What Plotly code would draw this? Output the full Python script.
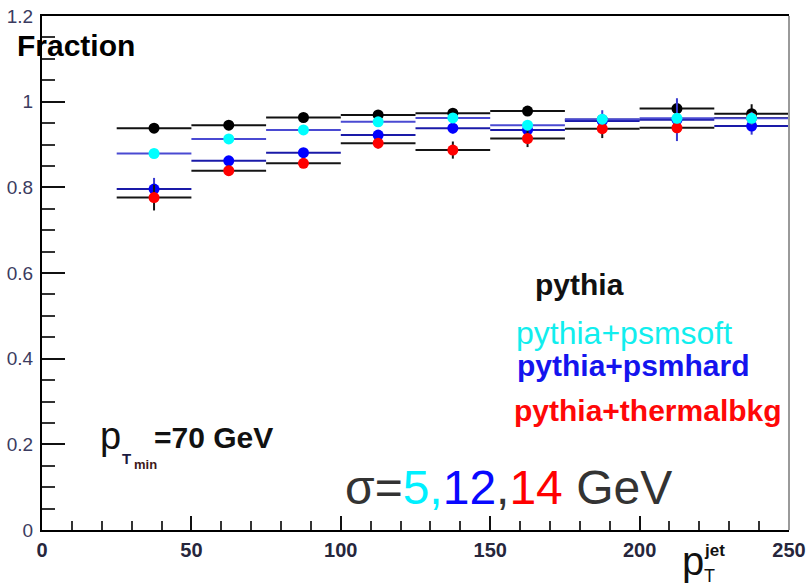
import plotly.graph_objects as go

# Jet pT bins (GeV): centres and half-widths
pt_centres = [37.5, 62.5, 87.5, 112.5, 137.5, 162.5, 187.5, 212.5, 237.5]
pt_halfwidth = [12.5] * 9

# Fraction per bin for each sample
frac_pythia = [0.938, 0.945, 0.963, 0.969, 0.973, 0.978, 0.958, 0.984, 0.972]
frac_psmsoft = [0.879, 0.913, 0.934, 0.953, 0.962, 0.945, 0.959, 0.961, 0.961]
frac_psmhard = [0.796, 0.862, 0.881, 0.922, 0.938, 0.934, 0.955, 0.958, 0.943]
frac_thermal = [0.776, 0.839, 0.856, 0.903, 0.887, 0.914, 0.937, 0.939, 0.962]

# Statistical uncertainties
err_pythia = [0.006, 0.006, 0.006, 0.007, 0.008, 0.008, 0.010, 0.010, 0.022]
err_psmsoft = [0.005, 0.006, 0.007, 0.008, 0.009, 0.009, 0.012, 0.012, 0.015]
err_psmhard = [0.026, 0.008, 0.008, 0.010, 0.012, 0.012, 0.025, 0.050, 0.020]
err_thermal = [0.030, 0.012, 0.010, 0.012, 0.020, 0.020, 0.022, 0.012, 0.015]

x_ticks = [0, 50, 100, 150, 200, 250]
y_ticks = [0, 0.2, 0.4, 0.6, 0.8, 1.0, 1.2]
y_ticktext = ["0", "0.2", "0.4", "0.6", "0.8", "1", "1.2"]

W, H = 807, 585
ML, MR, MT, MB = 42, 18, 16, 55
PW, PH = W - ML - MR, H - MT - MB
FONT = "Liberation Sans, Arial, sans-serif"


def px(x):
    return (x - ML) / PW


def py(y):
    return (H - MB - y) / PH


fig = go.Figure()

series = [
    (frac_pythia, err_pythia, "#000000", "#111111", "#111111"),
    (frac_psmhard, err_psmhard, "#0000ff", "#1a1aa8", "#3a3ad0"),
    (frac_thermal, err_thermal, "#ff0000", "#151515", "#151515"),
    (frac_psmsoft, err_psmsoft, "#00ffff", "#4a4ad2", "#4a4ad2"),
]
for vals, errs, mcol, xcol, ycol in series:
    fig.add_trace(go.Scatter(
        x=pt_centres, y=vals, mode="markers",
        marker=dict(color=mcol, size=11, symbol="circle", line=dict(width=0)),
        error_x=dict(type="data", array=pt_halfwidth, visible=True,
                     color=xcol, thickness=2, width=0),
        error_y=dict(type="data", array=errs, visible=True,
                     color=ycol, thickness=2, width=0),
        showlegend=False, hoverinfo="skip",
    ))

fig.update_layout(
    width=W, height=H,
    margin=dict(l=ML, r=MR, t=MT, b=MB, autoexpand=False),
    paper_bgcolor="white", plot_bgcolor="white",
    font=dict(family=FONT),
    xaxis=dict(
        range=[0, 250], tickvals=x_ticks, showgrid=False, zeroline=False,
        automargin=False,
        showline=True, linecolor="#000", linewidth=2, mirror=True,
        ticks="inside", ticklen=14, tickwidth=2, tickcolor="#111",
        minor=dict(dtick=10, ticks="inside", ticklen=9, tickwidth=2, tickcolor="#333"),
        tickfont=dict(size=20, color="#26263c", family=FONT, weight="bold"),
        ticklabelstandoff=1,
    ),
    yaxis=dict(
        range=[0, 1.2], tickvals=y_ticks, ticktext=y_ticktext,
        showgrid=False, zeroline=False, automargin=False,
        showline=True, linecolor="#000", linewidth=2,
        ticks="inside", ticklen=23, tickwidth=2, tickcolor="#111",
        minor=dict(dtick=0.05, ticks="inside", ticklen=13, tickwidth=2, tickcolor="#333"),
        tickfont=dict(size=19, color="#3b3b60", family=FONT),
        ticklabelstandoff=3,
    ),
)

# right frame edge
fig.add_shape(type="line", xref="paper", yref="paper", x0=1, x1=1, y0=0, y1=1,
              line=dict(color="#9a9a9a", width=2))


def note(text, x, y, size, color="#000", bold=False, xanchor="left", yanchor="middle"):
    fig.add_annotation(
        text=text, x=px(x), y=py(y), xref="paper", yref="paper",
        xanchor=xanchor, yanchor=yanchor, showarrow=False, borderpad=0,
        font=dict(family=FONT, size=size, color=color,
                  weight="bold" if bold else "normal"),
    )


# axis titles
note("Fraction", 16, 45, 30, "#000", bold=True)
note("p", 681, 561, 40, "#111")
note("jet", 703, 550, 17, "#111", bold=True)
note("T", 703, 576, 18, "#111")

# jet threshold
note("p", 99, 436, 38, "#111")
note("T", 121, 458, 15, "#1a1a40", bold=True)
note("min", 133, 464, 13, "#401818", bold=True)
note("=70 GeV", 153, 437, 30, "#111", bold=True)

# sample labels
note("pythia", 534, 285, 30, "#111", bold=True)
note("pythia+psmsoft", 515, 333, 32, "#11eeee")
note("pythia+psmhard", 516, 365, 30, "#1414ee", bold=True)
note("pythia+thermalbkg", 513, 411, 30, "#ff0808", bold=True)

# smearing widths
sigma_txt = ("σ=<span style='color:#00f0ff'>5,</span>"
             "<span style='color:#0808ff'>12</span>,"
             "<span style='color:#ff0000'>14</span> GeV")
note(sigma_txt, 344, 487, 48, "#333333")

fig.write_html("out.html")
